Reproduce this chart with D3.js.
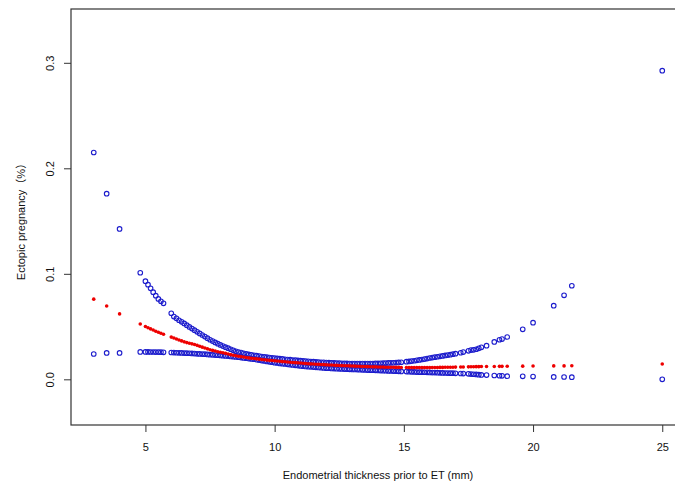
<!DOCTYPE html>
<html lang="en">
<head>
<meta charset="UTF-8">
<title>Ectopic pregnancy</title>
<script src="https://cdn.jsdelivr.net/npm/d3@7"></script>
<style>
    body { margin: 0; background: #fff; }
    svg { font-family: "Liberation Sans", Arial, "Noto Sans CJK SC", sans-serif; }
    .axis text { font-size: 11px; fill: #111; }
    .axis line { stroke: #333; }
</style>
</head>
<body>
<div id="chart"></div>
<script>
// thickness values (mm)
var thickness = [3, 3.5, 4, 4.8, 5.0, 5.1, 5.2, 5.3, 5.4, 5.5, 5.6, 5.7,
    6.0, 6.1, 6.2, 6.3, 6.4, 6.5, 6.6, 6.7, 6.8, 6.9,
    7.0, 7.1, 7.2, 7.3, 7.4, 7.5, 7.6, 7.7, 7.8, 7.9,
    8.0, 8.1, 8.2, 8.3, 8.4, 8.5, 8.6, 8.7, 8.8, 8.9,
    9.0, 9.1, 9.2, 9.3, 9.4, 9.5, 9.6, 9.7, 9.8, 9.9,
    10.0, 10.1, 10.2, 10.3, 10.4, 10.5, 10.6, 10.7, 10.8, 10.9,
    11.0, 11.1, 11.2, 11.3, 11.4, 11.5, 11.6, 11.7, 11.8, 11.9,
    12.0, 12.1, 12.2, 12.3, 12.4, 12.5, 12.6, 12.7, 12.8, 12.9,
    13.0, 13.1, 13.2, 13.3, 13.4, 13.5, 13.6, 13.7, 13.8, 13.9,
    14.0, 14.1, 14.2, 14.3, 14.4, 14.5, 14.6, 14.7, 14.8, 14.9,
    15.1, 15.2, 15.3, 15.4, 15.5, 15.6, 15.7, 15.8, 15.9, 16.0,
    16.1, 16.2, 16.3, 16.4, 16.5, 16.6, 16.7, 16.8, 16.9, 17.0,
    17.2, 17.3, 17.5, 17.6, 17.7, 17.8, 17.9, 18.0, 18.2, 18.5,
    18.7, 18.8, 19.0, 19.6, 20.0, 20.8, 21.2, 21.5, 25];

var upperCI = [0.215, 0.176, 0.1425, 0.101, 0.093, 0.0897, 0.0862, 0.0826, 0.0793, 0.0762, 0.0740, 0.0720,
    0.0626, 0.0595, 0.0578, 0.0560, 0.0545, 0.0530, 0.0513, 0.0497, 0.0481, 0.0466,
    0.0450, 0.0435, 0.0420, 0.0405, 0.0390, 0.0375, 0.0362, 0.0350, 0.0338, 0.0326,
    0.0315, 0.0305, 0.0295, 0.0285, 0.0275, 0.0266, 0.0259, 0.0253, 0.0247, 0.0241,
    0.0236, 0.0232, 0.0228, 0.0224, 0.0220, 0.0216, 0.0213, 0.0210, 0.0207, 0.0204,
    0.0201, 0.0198, 0.0196, 0.0193, 0.0190, 0.0188, 0.0186, 0.0183, 0.0181, 0.0179,
    0.0177, 0.0175, 0.0173, 0.0171, 0.0169, 0.0167, 0.0165, 0.0164, 0.0162, 0.0161,
    0.0159, 0.0158, 0.0157, 0.0155, 0.0154, 0.0153, 0.0152, 0.0151, 0.0151, 0.0150,
    0.0150, 0.0149, 0.0149, 0.0149, 0.0149, 0.0149, 0.0149, 0.0150, 0.0150, 0.0151,
    0.0151, 0.0152, 0.0153, 0.0154, 0.0155, 0.0156, 0.0157, 0.0159, 0.0160, 0.0162,
    0.0167, 0.0170, 0.0173, 0.0176, 0.0180, 0.0184, 0.0188, 0.0192, 0.0197, 0.0202,
    0.0206, 0.0210, 0.0214, 0.0218, 0.0222, 0.0226, 0.0230, 0.0234, 0.0238, 0.0243,
    0.0252, 0.0258, 0.0270, 0.0277, 0.0280, 0.0285, 0.0294, 0.0303, 0.0319, 0.0354,
    0.0375, 0.0381, 0.0401, 0.0474, 0.0537, 0.0698, 0.0796, 0.0887, 0.2925];

var estimate = [0.076, 0.0695, 0.062, 0.0525, 0.0500, 0.0489, 0.0478, 0.0467, 0.0456, 0.0446, 0.0436, 0.0427,
    0.0400, 0.0391, 0.0382, 0.0373, 0.0364, 0.0355, 0.0348, 0.0342, 0.0336, 0.0330,
    0.0322, 0.0313, 0.0305, 0.0297, 0.0289, 0.0280, 0.0274, 0.0268, 0.0262, 0.0257,
    0.0252, 0.0246, 0.0240, 0.0234, 0.0228, 0.0223, 0.0219, 0.0215, 0.0211, 0.0207,
    0.0203, 0.0200, 0.0197, 0.0194, 0.0191, 0.0188, 0.0185, 0.0182, 0.0180, 0.0178,
    0.0176, 0.0173, 0.0171, 0.0168, 0.0166, 0.0164, 0.0162, 0.0160, 0.0158, 0.0156,
    0.0154, 0.0152, 0.0150, 0.0148, 0.0146, 0.0145, 0.0143, 0.0142, 0.0140, 0.0139,
    0.0137, 0.0136, 0.0135, 0.0133, 0.0132, 0.0131, 0.0130, 0.0129, 0.0128, 0.0127,
    0.0126, 0.0125, 0.0124, 0.0123, 0.0122, 0.0121, 0.0120, 0.0119, 0.0118, 0.0118,
    0.0117, 0.0116, 0.0116, 0.0115, 0.0115, 0.0114, 0.0114, 0.0113, 0.0113, 0.0112,
    0.0112, 0.0111, 0.0111, 0.0111, 0.0111, 0.0111, 0.0111, 0.0111, 0.0111, 0.0111,
    0.0112, 0.0112, 0.0112, 0.0113, 0.0113, 0.0114, 0.0114, 0.0115, 0.0115, 0.0116,
    0.0117, 0.0117, 0.0118, 0.0119, 0.0119, 0.0120, 0.0120, 0.0121, 0.0122, 0.0122,
    0.0123, 0.0123, 0.0124, 0.0125, 0.0126, 0.0127, 0.0127, 0.0128, 0.0145];

var lowerCI = [0.0240, 0.0250, 0.0250, 0.0260, 0.0260, 0.0260, 0.0259, 0.0259, 0.0258, 0.0258, 0.0257, 0.0256,
    0.0254, 0.0253, 0.0252, 0.0251, 0.0250, 0.0249, 0.0248, 0.0247, 0.0245, 0.0244,
    0.0242, 0.0241, 0.0239, 0.0238, 0.0236, 0.0234, 0.0232, 0.0230, 0.0228, 0.0226,
    0.0224, 0.0222, 0.0220, 0.0217, 0.0215, 0.0212, 0.0209, 0.0206, 0.0203, 0.0200,
    0.0197, 0.0193, 0.0190, 0.0186, 0.0182, 0.0178, 0.0174, 0.0170, 0.0166, 0.0162,
    0.0158, 0.0155, 0.0151, 0.0148, 0.0145, 0.0142, 0.0139, 0.0136, 0.0133, 0.0130,
    0.0127, 0.0125, 0.0122, 0.0120, 0.0118, 0.0116, 0.0114, 0.0112, 0.0110, 0.0108,
    0.0106, 0.0105, 0.0103, 0.0102, 0.0100, 0.0099, 0.0098, 0.0097, 0.0096, 0.0095,
    0.0094, 0.0093, 0.0092, 0.0091, 0.0090, 0.0089, 0.0088, 0.0087, 0.0086, 0.0085,
    0.0084, 0.0083, 0.0082, 0.0081, 0.0080, 0.0079, 0.0078, 0.0077, 0.0076, 0.0075,
    0.0073, 0.0072, 0.0071, 0.0070, 0.0069, 0.0068, 0.0068, 0.0067, 0.0066, 0.0065,
    0.0064, 0.0064, 0.0063, 0.0062, 0.0061, 0.0060, 0.0059, 0.0058, 0.0058, 0.0057,
    0.0055, 0.0054, 0.0052, 0.0050, 0.0048, 0.0046, 0.0044, 0.0042, 0.0040, 0.0036,
    0.0034, 0.0033, 0.0030, 0.0028, 0.0026, 0.0023, 0.0022, 0.0020, 0.0000];

var xTicks = [5, 10, 15, 20, 25];
var yTicks = [0.0, 0.1, 0.2, 0.3];

var p = {
    width: 675,
    height: 484,
    left: 71,
    right: 685,   // frame runs past the window edge, as in the picture
    top: 9,
    bottom: 425
};

var svg = d3.select("#chart")
    .append("svg")
    .attr("width", p.width)
    .attr("height", p.height);

var x = d3.scaleLinear().domain([2.12, 25.88]).range([p.left, p.right]);
var y = d3.scaleLinear().domain([-0.0433, 0.351]).range([p.bottom, p.top]);

// x axis
var gx = svg.append("g")
    .attr("class", "axis")
    .attr("transform", "translate(0," + p.bottom + ")")
    .call(d3.axisBottom(x).tickValues(xTicks).tickSize(7).tickPadding(11).tickFormat(d3.format("d")));
gx.select(".domain").remove();

// y axis, labels turned like R's las = 0
var gy = svg.append("g")
    .attr("class", "axis")
    .attr("transform", "translate(" + p.left + ",0)")
    .call(d3.axisLeft(y).tickValues(yTicks).tickSize(7).tickFormat(d3.format(".1f")));
gy.select(".domain").remove();
gy.selectAll(".tick text")
    .attr("x", null)
    .attr("dy", null)
    .attr("text-anchor", "middle")
    .attr("transform", "translate(-17.5,0) rotate(-90)");

// box
svg.append("rect")
    .attr("x", p.left)
    .attr("y", p.top)
    .attr("width", p.right - p.left)
    .attr("height", p.bottom - p.top)
    .attr("fill", "none")
    .attr("stroke", "#333")
    .attr("stroke-width", 1.2);

// axis titles
svg.append("text")
    .attr("x", (p.left + p.right) / 2)
    .attr("y", 479)
    .attr("text-anchor", "middle")
    .style("font-size", "11px")
    .style("fill", "#111")
    .text("Endometrial thickness prior to ET (mm)");

svg.append("text")
    .attr("transform", "translate(25," + ((p.top + p.bottom) / 2 + 2) + ") rotate(-90)")
    .attr("text-anchor", "middle")
    .style("font-size", "11px")
    .style("fill", "#111")
    .text("Ectopic pregnancy（%）");

// points
var plot = svg.append("g");

function drawRing(values) {
    plot.append("g").selectAll("circle")
        .data(values)
        .enter().append("circle")
        .attr("cx", function(d, i) { return x(thickness[i]); })
        .attr("cy", function(d) { return y(d); })
        .attr("r", 2.3)
        .attr("fill", "none")
        .attr("stroke", "#1c1ccc")
        .attr("stroke-width", 1.1);
}

drawRing(lowerCI);
drawRing(upperCI);

plot.append("g").selectAll("circle")
    .data(estimate)
    .enter().append("circle")
    .attr("cx", function(d, i) { return x(thickness[i]); })
    .attr("cy", function(d) { return y(d); })
    .attr("r", 1.8)
    .attr("fill", "#ee0000");
</script>
</body>
</html>
